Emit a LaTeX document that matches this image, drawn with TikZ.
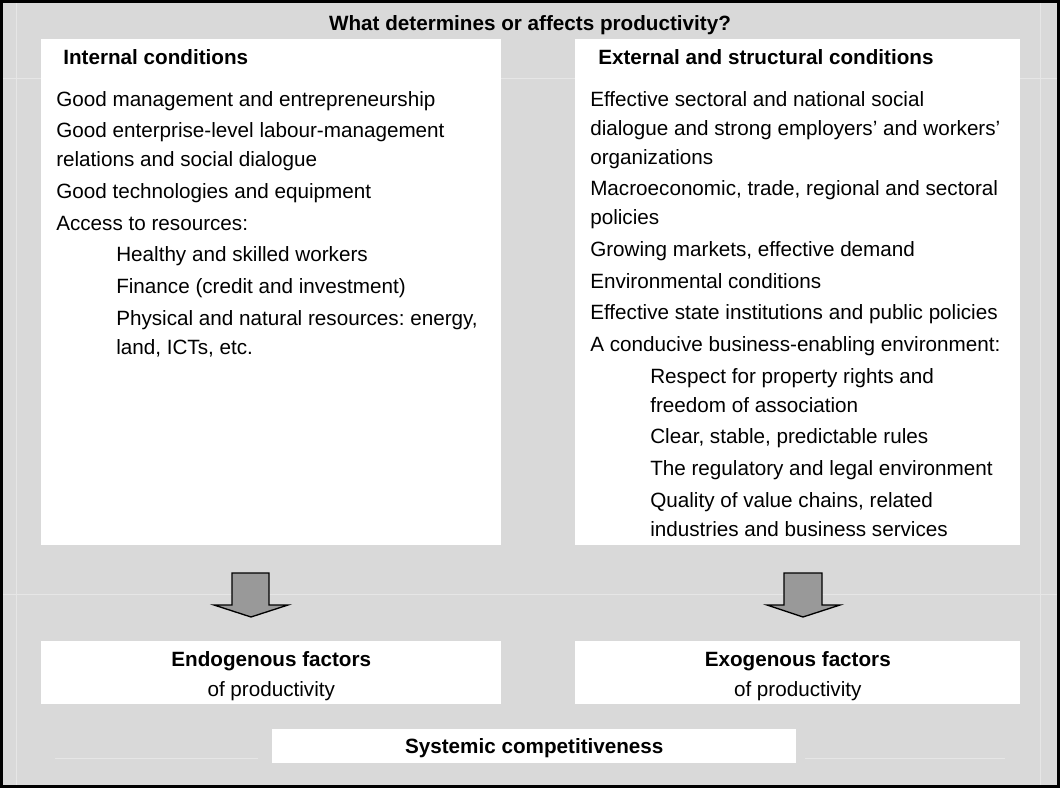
\documentclass[tikz,border=0pt]{standalone}
\usepackage{fontspec}
\setmainfont{Liberation Sans}
\usepackage{xcolor}
\usetikzlibrary{positioning}
\definecolor{panelgray}{HTML}{D9D9D9}
\definecolor{gridgray}{HTML}{E6E6E6}
\definecolor{arrowgray}{HTML}{999999}
\frenchspacing

\begin{document}
\begin{tikzpicture}[x=0.75pt,y=-0.75pt,
  every node/.style={font=\fontsize{15.5}{21.75}\selectfont},
  whitebox/.style={fill=white, inner sep=0pt, anchor=north west},
  listtext/.style={anchor=north west, align=left, inner sep=0pt},
  headtext/.style={anchor=west, inner sep=0pt, font=\fontsize{15.5}{21.75}\selectfont\bfseries},
  factortext/.style={anchor=north, align=center, inner sep=0pt},
  gridline/.style={draw=gridgray, line width=0.75pt},
  blockarrow/.style={draw=black, fill=arrowgray, line width=1pt, line join=miter}]

\useasboundingbox (0,0) rectangle (1060,788);

% Background panel
\fill[panelgray] (0,0) rectangle (1060,788);

% Faint table lines behind the boxes
\draw[gridline] (0,79) -- (1060,79);
\draw[gridline] (0,594) -- (1060,594);
\draw[gridline] (55,758) -- (258,758);
\draw[gridline] (805,758) -- (1005,758);
\draw[gridline] (16,0) -- (16,788);
\draw[gridline] (1040,0) -- (1040,788);

% Outer frame
\draw[line width=1.9pt] (1.25,1.25) rectangle (1058.75,786.75);

% Title
\node[anchor=base, font=\fontsize{15.5}{21.75}\selectfont\bfseries] (title) at (530,31)
  {What determines or affects productivity?};

% Upper white boxes
\node[whitebox, minimum width=345pt, minimum height=379.5pt] (intbox) at (41,39) {};
\node[whitebox, minimum width=333.75pt, minimum height=379.5pt] (extbox) at (575,39) {};

% Headings
\node[headtext] (inthead) at (63,57) {Internal conditions};
\node[headtext] (exthead) at (598,57) {External and structural conditions};

% Lists
\node[listtext] (intlist) at (56,91) {%
  Good management and entrepreneurship\\[2pt]
  Good enterprise-level labour-management\\
  relations and social dialogue\\[2pt]
  Good technologies and equipment\\[2pt]
  Access to resources:\\[2pt]
  \hspace*{45pt}Healthy and skilled workers\\[2pt]
  \hspace*{45pt}Finance (credit and investment)\\[2pt]
  \hspace*{45pt}Physical and natural resources: energy,\\
  \hspace*{45pt}land, ICTs, etc.};

\node[listtext] (extlist) at (590,91) {%
  Effective sectoral and national social\\
  dialogue and strong employers’ and workers’\\
  organizations\\[2pt]
  Macroeconomic, trade, regional and sectoral\\
  policies\\[2pt]
  Growing markets, effective demand\\[2pt]
  Environmental conditions\\[2pt]
  Effective state institutions and public policies\\[2pt]
  A conducive business-enabling environment:\\[2pt]
  \hspace*{45pt}Respect for property rights and\\
  \hspace*{45pt}freedom of association\\[2pt]
  \hspace*{45pt}Clear, stable, predictable rules\\[2pt]
  \hspace*{45pt}The regulatory and legal environment\\[2pt]
  \hspace*{45pt}Quality of value chains, related\\
  \hspace*{45pt}industries and business services};

% Block arrows
\draw[blockarrow] (232,573) -- (269,573) -- (269,605) -- (288,605) -- (251,617)
  -- (214,605) -- (232,605) -- cycle;
\draw[blockarrow] (784,573) -- (822,573) -- (822,605) -- (840,605) -- (803,617)
  -- (767,605) -- (784,605) -- cycle;

% Factor boxes
\node[whitebox, minimum width=345pt, minimum height=47.25pt] (endo) at (41,641) {};
\node[whitebox, minimum width=333.75pt, minimum height=47.25pt] (exo) at (575,641) {};
\node[factortext, below=7.9pt of endo.north] (endolabel)
  {\textbf{Endogenous factors}\\[0.75pt]of productivity};
\node[factortext, below=7.9pt of exo.north] (exolabel)
  {\textbf{Exogenous factors}\\[0.75pt]of productivity};

% Bottom box
\node[whitebox, minimum width=393pt, minimum height=25.5pt, text depth=0pt] (syst) at (272,729)
  {\textbf{Systemic competitiveness}};

\end{tikzpicture}
\end{document}
